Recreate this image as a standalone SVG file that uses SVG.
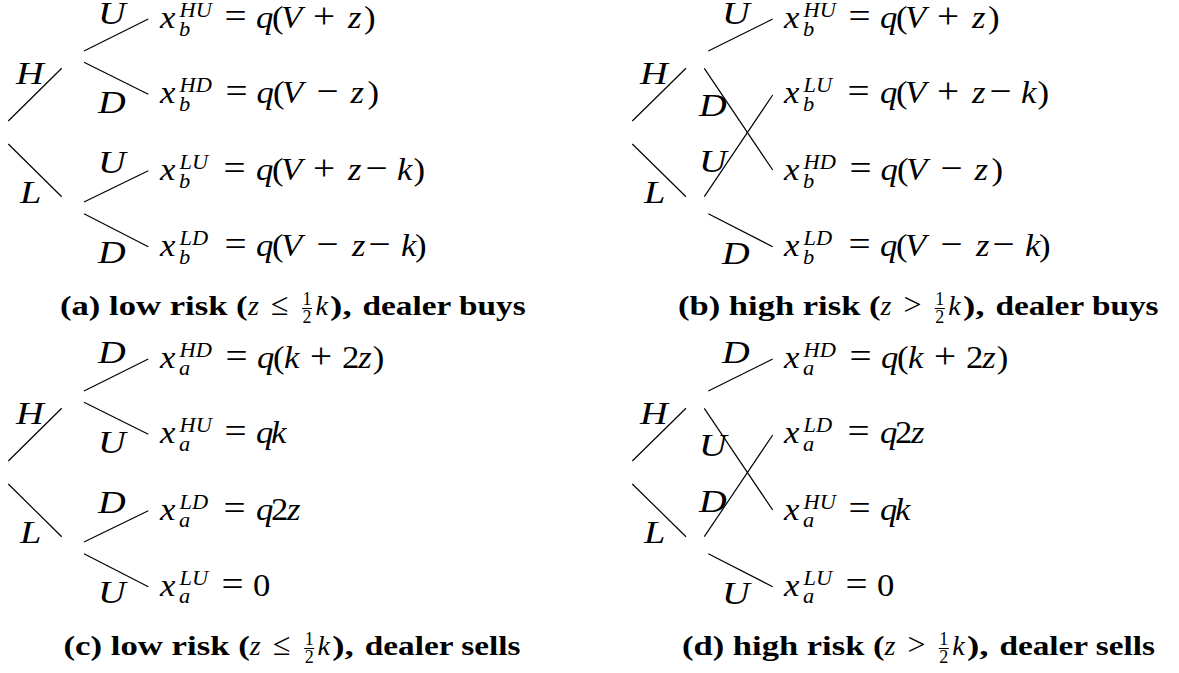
<svg xmlns="http://www.w3.org/2000/svg" width="1179" height="673" viewBox="0 0 1179 673">
<style>
.m{font-family:"Liberation Serif","Times New Roman",serif;font-style:italic;font-size:31px;fill:#000}
.r{font-style:normal}
.o{font-style:normal;font-size:35px}
.s{font-size:20px}
.lb{font-family:"Liberation Serif","Times New Roman",serif;font-style:italic;font-size:32px;fill:#000}
.cap{font-family:"Liberation Serif","Times New Roman",serif;font-weight:bold;font-size:28px;fill:#000}
.cm{font-family:"Liberation Serif","Times New Roman",serif;font-style:italic;font-size:28px;fill:#000}
.cr{font-family:"Liberation Serif","Times New Roman",serif;font-size:32px;fill:#000}
.fr{font-family:"Liberation Serif","Times New Roman",serif;font-size:18px;fill:#000}
.l{stroke:#000;stroke-width:1.2;fill:none}
.fb{stroke:#000;stroke-width:1;fill:none}
</style>
<rect width="1179" height="673" fill="#fff"/>
<g id="connectors">
  <line class="l" x1="8.3" y1="121" x2="61.7" y2="68.3"/>
  <line class="l" x1="8.3" y1="144" x2="61.7" y2="196.7"/>
  <line class="l" x1="84" y1="51" x2="148.3" y2="19"/>
  <line class="l" x1="84" y1="62.3" x2="148.3" y2="94.3"/>
  <line class="l" x1="84" y1="202" x2="148.3" y2="170.7"/>
  <line class="l" x1="84" y1="213.7" x2="148.3" y2="246.7"/>
  <line class="l" x1="632.3" y1="121" x2="686" y2="68.3"/>
  <line class="l" x1="632.3" y1="144" x2="686" y2="196.7"/>
  <line class="l" x1="708.3" y1="51" x2="772.7" y2="19"/>
  <line class="l" x1="704.3" y1="68.3" x2="772.7" y2="170"/>
  <line class="l" x1="704.3" y1="196.7" x2="772.7" y2="95"/>
  <line class="l" x1="708.3" y1="213.7" x2="772.7" y2="246.7"/>
  <line class="l" x1="8.3" y1="461" x2="61.7" y2="408.3"/>
  <line class="l" x1="8.3" y1="484" x2="61.7" y2="536.7"/>
  <line class="l" x1="84" y1="391" x2="148.3" y2="359"/>
  <line class="l" x1="84" y1="402.3" x2="148.3" y2="434.3"/>
  <line class="l" x1="84" y1="542" x2="148.3" y2="510.7"/>
  <line class="l" x1="84" y1="553.7" x2="148.3" y2="586.7"/>
  <line class="l" x1="632.3" y1="461" x2="686" y2="408.3"/>
  <line class="l" x1="632.3" y1="484" x2="686" y2="536.7"/>
  <line class="l" x1="708.3" y1="391" x2="772.7" y2="359"/>
  <line class="l" x1="704.3" y1="408.3" x2="772.7" y2="510"/>
  <line class="l" x1="704.3" y1="536.7" x2="772.7" y2="435"/>
  <line class="l" x1="708.3" y1="553.7" x2="772.7" y2="586.7"/>
</g>

<g id="panel-a">
  <g id="a-labels">
    <text class="lb" transform="translate(98,24) scale(1.2,1)">U</text>
    <text class="lb" transform="translate(98,113) scale(1.2,1)">D</text>
    <text class="lb" transform="translate(98,173) scale(1.2,1)">U</text>
    <text class="lb" transform="translate(98,263) scale(1.2,1)">D</text>
    <text class="lb" transform="translate(16,84) scale(1.2,1)">H</text>
    <text class="lb" transform="translate(20,203) scale(1.2,1)">L</text>
  </g>
  <g id="a-HU"><text class="m" transform="translate(160,0) scale(1.12,1)"><tspan x="0" y="28">x</tspan><tspan class="s" x="17.4" y="17">HU</tspan><tspan class="s" x="17" y="36">b</tspan><tspan class="o" x="57.6" y="28">=</tspan><tspan x="85.7">q</tspan><tspan class="r" x="100">(</tspan><tspan x="108">V</tspan><tspan class="o" x="136.6">+</tspan><tspan x="167.9">z</tspan><tspan class="r" x="182.1">)</tspan></text></g>
  <g id="a-HD"><text class="m" transform="translate(160,0) scale(1.12,1)"><tspan x="0" y="103.5">x</tspan><tspan class="s" x="17.4" y="92.5">HD</tspan><tspan class="s" x="17" y="111.5">b</tspan><tspan class="o" x="58.5" y="103.5">=</tspan><tspan x="86.2">q</tspan><tspan class="r" x="100.9">(</tspan><tspan x="108.9">V</tspan><tspan class="o" x="139.7">−</tspan><tspan x="170.1">z</tspan><tspan class="r" x="185.3">)</tspan></text></g>
  <g id="a-LU"><text class="m" transform="translate(160,0) scale(1.12,1)"><tspan x="0" y="180">x</tspan><tspan class="s" x="17.4" y="169">LU</tspan><tspan class="s" x="17" y="188">b</tspan><tspan class="o" x="56.7" y="180">=</tspan><tspan x="85.7">q</tspan><tspan class="r" x="100">(</tspan><tspan x="108">V</tspan><tspan class="o" x="136.6">+</tspan><tspan x="167.9">z</tspan><tspan class="o" x="183.5">−</tspan><tspan x="211.6">k</tspan><tspan class="r" x="226.3">)</tspan></text></g>
  <g id="a-LD"><text class="m" transform="translate(160,0) scale(1.12,1)"><tspan x="0" y="256">x</tspan><tspan class="s" x="17.4" y="245">LD</tspan><tspan class="s" x="17" y="264">b</tspan><tspan class="o" x="57.6" y="256">=</tspan><tspan x="85.7">q</tspan><tspan class="r" x="100">(</tspan><tspan x="108">V</tspan><tspan class="o" x="139.7">−</tspan><tspan x="171.4">z</tspan><tspan class="o" x="186.2">−</tspan><tspan x="215.2">k</tspan><tspan class="r" x="227.7">)</tspan></text></g>
  <g id="a-caption">
    <text class="cap" x="60" y="315" textLength="187.6" lengthAdjust="spacingAndGlyphs">(a) low risk (</text>
    <text class="cm" x="248" y="315">z</text>
    <text class="cr" x="279.7" y="315" text-anchor="middle">≤</text>
    <text class="fr" x="307" y="304.5" text-anchor="middle">1</text>
    <line class="fb" x1="302" y1="308.5" x2="312" y2="308.5"/>
    <text class="fr" x="307" y="323" text-anchor="middle">2</text>
    <text class="cm" x="315.4" y="315">k</text>
    <text class="cap" x="330.1" y="315" textLength="21.6" lengthAdjust="spacingAndGlyphs">),</text>
    <text class="cap" x="362.5" y="315" textLength="163.2" lengthAdjust="spacingAndGlyphs">dealer buys</text>
  </g>
</g>

<g id="panel-b">
  <g id="b-labels">
    <text class="lb" transform="translate(722,24) scale(1.2,1)">U</text>
    <text class="lb" transform="translate(699,116) scale(1.2,1)">D</text>
    <text class="lb" transform="translate(699,172) scale(1.2,1)">U</text>
    <text class="lb" transform="translate(722,264) scale(1.2,1)">D</text>
    <text class="lb" transform="translate(640,84) scale(1.2,1)">H</text>
    <text class="lb" transform="translate(644,203) scale(1.2,1)">L</text>
  </g>
  <g id="b-HU"><text class="m" transform="translate(784,0) scale(1.12,1)"><tspan x="0" y="28">x</tspan><tspan class="s" x="17.4" y="17">HU</tspan><tspan class="s" x="17" y="36">b</tspan><tspan class="o" x="57.6" y="28">=</tspan><tspan x="85.7">q</tspan><tspan class="r" x="100">(</tspan><tspan x="108">V</tspan><tspan class="o" x="136.6">+</tspan><tspan x="167.9">z</tspan><tspan class="r" x="182.1">)</tspan></text></g>
  <g id="b-LU"><text class="m" transform="translate(784,0) scale(1.12,1)"><tspan x="0" y="103.5">x</tspan><tspan class="s" x="17.4" y="92.5">LU</tspan><tspan class="s" x="17" y="111.5">b</tspan><tspan class="o" x="56.7" y="103.5">=</tspan><tspan x="85.7">q</tspan><tspan class="r" x="100">(</tspan><tspan x="108">V</tspan><tspan class="o" x="136.6">+</tspan><tspan x="167.9">z</tspan><tspan class="o" x="183.5">−</tspan><tspan x="211.6">k</tspan><tspan class="r" x="226.3">)</tspan></text></g>
  <g id="b-HD"><text class="m" transform="translate(784,0) scale(1.12,1)"><tspan x="0" y="180">x</tspan><tspan class="s" x="17.4" y="169">HD</tspan><tspan class="s" x="17" y="188">b</tspan><tspan class="o" x="58.5" y="180">=</tspan><tspan x="86.2">q</tspan><tspan class="r" x="100.9">(</tspan><tspan x="108.9">V</tspan><tspan class="o" x="139.7">−</tspan><tspan x="170.1">z</tspan><tspan class="r" x="185.3">)</tspan></text></g>
  <g id="b-LD"><text class="m" transform="translate(784,0) scale(1.12,1)"><tspan x="0" y="256">x</tspan><tspan class="s" x="17.4" y="245">LD</tspan><tspan class="s" x="17" y="264">b</tspan><tspan class="o" x="57.6" y="256">=</tspan><tspan x="85.7">q</tspan><tspan class="r" x="100">(</tspan><tspan x="108">V</tspan><tspan class="o" x="139.7">−</tspan><tspan x="171.4">z</tspan><tspan class="o" x="186.2">−</tspan><tspan x="215.2">k</tspan><tspan class="r" x="227.7">)</tspan></text></g>
  <g id="b-caption">
    <text class="cap" x="678" y="315" textLength="202.5" lengthAdjust="spacingAndGlyphs">(b) high risk (</text>
    <text class="cm" x="880.5" y="315">z</text>
    <text class="cr" x="912.6" y="315" text-anchor="middle">&gt;</text>
    <text class="fr" x="939.8" y="304.5" text-anchor="middle">1</text>
    <line class="fb" x1="934.8" y1="308.5" x2="944.8" y2="308.5"/>
    <text class="fr" x="939.8" y="323" text-anchor="middle">2</text>
    <text class="cm" x="948.2" y="315">k</text>
    <text class="cap" x="962.9" y="315" textLength="21.6" lengthAdjust="spacingAndGlyphs">),</text>
    <text class="cap" x="995.4" y="315" textLength="163.2" lengthAdjust="spacingAndGlyphs">dealer buys</text>
  </g>
</g>

<g id="panel-c">
  <g id="c-labels">
    <text class="lb" transform="translate(98,363) scale(1.2,1)">D</text>
    <text class="lb" transform="translate(98,453) scale(1.2,1)">U</text>
    <text class="lb" transform="translate(98,513) scale(1.2,1)">D</text>
    <text class="lb" transform="translate(98,603) scale(1.2,1)">U</text>
    <text class="lb" transform="translate(16,424) scale(1.2,1)">H</text>
    <text class="lb" transform="translate(20,543) scale(1.2,1)">L</text>
  </g>
  <g id="c-HD"><text class="m" transform="translate(160,0) scale(1.12,1)"><tspan x="0" y="368">x</tspan><tspan class="s" x="17.4" y="357">HD</tspan><tspan class="s" x="17" y="375.5">a</tspan><tspan class="o" x="58.5" y="368">=</tspan><tspan x="86.6">q</tspan><tspan class="r" x="100.9">(</tspan><tspan x="110.7">k</tspan><tspan class="o" x="133.9">+</tspan><tspan class="r" x="162.5">2</tspan><tspan x="177">z</tspan><tspan class="r" x="190">)</tspan></text></g>
  <g id="c-HU"><text class="m" transform="translate(160,0) scale(1.12,1)"><tspan x="0" y="443.5">x</tspan><tspan class="s" x="17.4" y="432.5">HU</tspan><tspan class="s" x="17" y="451">a</tspan><tspan class="o" x="57.6" y="443.5">=</tspan><tspan x="85.7">q</tspan><tspan x="99.1">k</tspan></text></g>
  <g id="c-LD"><text class="m" transform="translate(160,0) scale(1.12,1)"><tspan x="0" y="520">x</tspan><tspan class="s" x="17.4" y="509">LD</tspan><tspan class="s" x="17" y="527.5">a</tspan><tspan class="o" x="56.7" y="520">=</tspan><tspan x="85.7">q</tspan><tspan class="r" x="99.1">2</tspan><tspan x="113.4">z</tspan></text></g>
  <g id="c-LU"><text class="m" transform="translate(160,0) scale(1.12,1)"><tspan x="0" y="596">x</tspan><tspan class="s" x="17.4" y="585">LU</tspan><tspan class="s" x="17" y="603.5">a</tspan><tspan class="o" x="54.9" y="596">=</tspan><tspan class="r" x="83">0</tspan></text></g>
  <g id="c-caption">
    <text class="cap" x="63.5" y="655" textLength="186.3" lengthAdjust="spacingAndGlyphs">(c) low risk (</text>
    <text class="cm" x="249.8" y="655">z</text>
    <text class="cr" x="281.9" y="655" text-anchor="middle">≤</text>
    <text class="fr" x="309.2" y="644.5" text-anchor="middle">1</text>
    <line class="fb" x1="304.2" y1="648.5" x2="314.2" y2="648.5"/>
    <text class="fr" x="309.2" y="663" text-anchor="middle">2</text>
    <text class="cm" x="317.5" y="655">k</text>
    <text class="cap" x="332.2" y="655" textLength="21.6" lengthAdjust="spacingAndGlyphs">),</text>
    <text class="cap" x="364.7" y="655" textLength="155.7" lengthAdjust="spacingAndGlyphs">dealer sells</text>
  </g>
</g>

<g id="panel-d">
  <g id="d-labels">
    <text class="lb" transform="translate(722,363) scale(1.2,1)">D</text>
    <text class="lb" transform="translate(699,456) scale(1.2,1)">U</text>
    <text class="lb" transform="translate(699,512) scale(1.2,1)">D</text>
    <text class="lb" transform="translate(722,604) scale(1.2,1)">U</text>
    <text class="lb" transform="translate(640,424) scale(1.2,1)">H</text>
    <text class="lb" transform="translate(644,543) scale(1.2,1)">L</text>
  </g>
  <g id="d-HD"><text class="m" transform="translate(784,0) scale(1.12,1)"><tspan x="0" y="368">x</tspan><tspan class="s" x="17.4" y="357">HD</tspan><tspan class="s" x="17" y="375.5">a</tspan><tspan class="o" x="58.5" y="368">=</tspan><tspan x="86.6">q</tspan><tspan class="r" x="100.9">(</tspan><tspan x="110.7">k</tspan><tspan class="o" x="133.9">+</tspan><tspan class="r" x="162.5">2</tspan><tspan x="177">z</tspan><tspan class="r" x="190">)</tspan></text></g>
  <g id="d-LD"><text class="m" transform="translate(784,0) scale(1.12,1)"><tspan x="0" y="443.5">x</tspan><tspan class="s" x="17.4" y="432.5">LD</tspan><tspan class="s" x="17" y="451">a</tspan><tspan class="o" x="56.7" y="443.5">=</tspan><tspan x="85.7">q</tspan><tspan class="r" x="99.1">2</tspan><tspan x="113.4">z</tspan></text></g>
  <g id="d-HU"><text class="m" transform="translate(784,0) scale(1.12,1)"><tspan x="0" y="520">x</tspan><tspan class="s" x="17.4" y="509">HU</tspan><tspan class="s" x="17" y="527.5">a</tspan><tspan class="o" x="57.6" y="520">=</tspan><tspan x="85.7">q</tspan><tspan x="99.1">k</tspan></text></g>
  <g id="d-LU"><text class="m" transform="translate(784,0) scale(1.12,1)"><tspan x="0" y="596">x</tspan><tspan class="s" x="17.4" y="585">LU</tspan><tspan class="s" x="17" y="603.5">a</tspan><tspan class="o" x="54.9" y="596">=</tspan><tspan class="r" x="83">0</tspan></text></g>
  <g id="d-caption">
    <text class="cap" x="682" y="655" textLength="202.5" lengthAdjust="spacingAndGlyphs">(d) high risk (</text>
    <text class="cm" x="884.5" y="655">z</text>
    <text class="cr" x="916.6" y="655" text-anchor="middle">&gt;</text>
    <text class="fr" x="943.8" y="644.5" text-anchor="middle">1</text>
    <line class="fb" x1="938.8" y1="648.5" x2="948.8" y2="648.5"/>
    <text class="fr" x="943.8" y="663" text-anchor="middle">2</text>
    <text class="cm" x="952.2" y="655">k</text>
    <text class="cap" x="966.9" y="655" textLength="21.6" lengthAdjust="spacingAndGlyphs">),</text>
    <text class="cap" x="999.4" y="655" textLength="155.7" lengthAdjust="spacingAndGlyphs">dealer sells</text>
  </g>
</g>
</svg>
